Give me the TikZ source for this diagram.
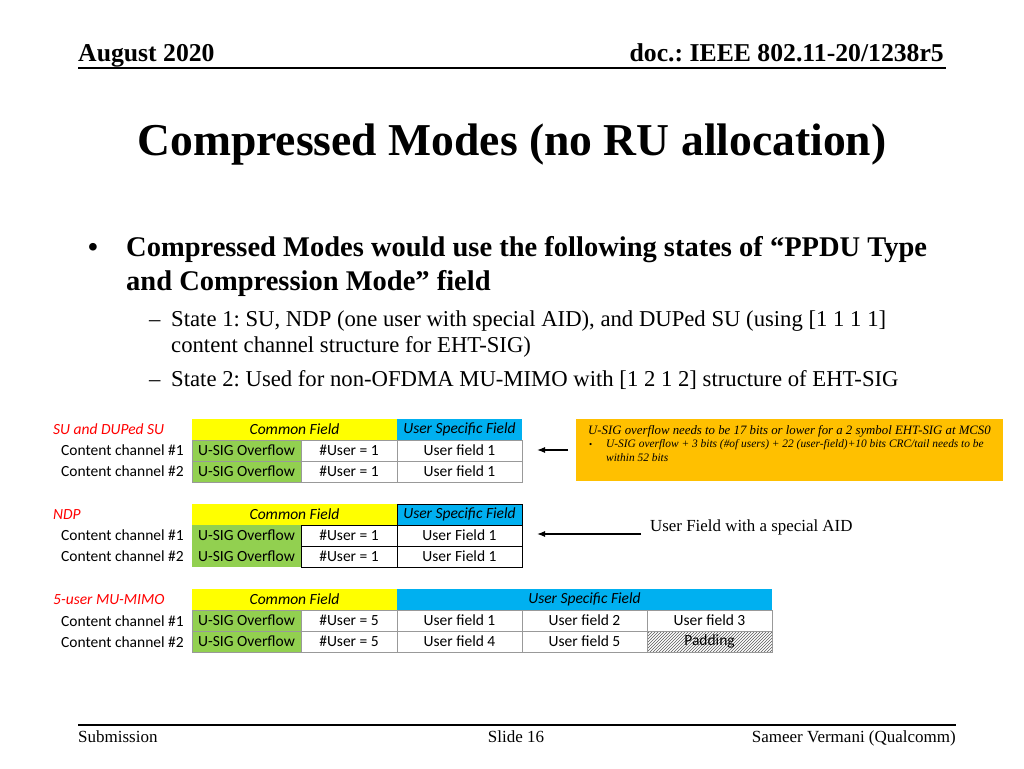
\documentclass[tikz,border=0pt]{standalone}
\usepackage{fontspec}
\setmainfont{Liberation Serif}
\newfontfamily\calib{Carlito}
\usetikzlibrary{patterns,arrows.meta}
\definecolor{cyel}{HTML}{FFFF00}
\definecolor{cblue}{HTML}{00B0F0}
\definecolor{cgreen}{HTML}{92D050}
\definecolor{corange}{HTML}{FFC000}
\definecolor{cred}{HTML}{FF0000}
\frenchspacing
\newcommand\fs[1]{\fontsize{#1}{#1}\selectfont}
\newcommand\mycell[7][]{\node[cellbox,#1,minimum width=#5pt,minimum height=#6pt] (#2) at (#3,#4) {#7};}
\tikzset{
  cellbox/.style={rectangle,anchor=north west,inner sep=0pt,outer sep=0pt,font=\calib\fs{15.5}},
  gridg/.style={draw=gray!80,line width=0.6pt},
  gridk/.style={draw=black,line width=1pt},
  hdr/.style={font=\calib\itshape\fs{15.5}},
  rowlab/.style={anchor=east,inner sep=0pt,font=\calib\fs{15.5}},
  grplab/.style={anchor=west,inner sep=0pt,font=\calib\itshape\fs{15.5},text=cred},
  pointer/.style={-{Latex[length=8pt,width=6pt]},line width=1.2pt},
}
\begin{document}
\begin{tikzpicture}[x=1pt,y=-1pt]
\useasboundingbox (0,0) rectangle (1024,768);
% header
\node[anchor=base west,inner sep=0pt,font=\bfseries\fs{25.7}] (date) at (78,62) {August 2020};
\node[anchor=base east,inner sep=0pt,font=\bfseries\fs{25.7}] (doc) at (944,62) {doc.: IEEE 802.11-20/1238r5};
\coordinate (hl) at (78,68); \coordinate (hr) at (946,68);
\draw[line width=1.5pt] (hl) -- (hr);
% title
\node[anchor=base,inner sep=0pt,font=\bfseries\fs{45.6}] (title) at (512,155) {Compressed Modes (no RU allocation)};
% bullets
\node[anchor=base west,inner sep=0pt,font=\bfseries\fs{28}] (b0) at (88,256) {\textbullet};
\node[anchor=base west,inner sep=0pt,font=\bfseries\fs{28.5}] (b1) at (126,256) {Compressed Modes would use the following states of “PPDU Type};
\node[anchor=base west,inner sep=0pt,font=\bfseries\fs{28.5}] (b2) at (126,290) {and Compression Mode” field};
\node[anchor=base west,inner sep=0pt,font=\fs{22.7}] (d1) at (149,326) {–};
\node[anchor=base west,inner sep=0pt,font=\fs{22.7}] (s1) at (171,326) {State 1: SU, NDP (one user with special AID), and DUPed SU (using [1 1 1 1]};
\node[anchor=base west,inner sep=0pt,font=\fs{22.7}] (s1b) at (171,352) {content channel structure for EHT-SIG)};
\node[anchor=base west,inner sep=0pt,font=\fs{22.7}] (d2) at (149,386) {–};
\node[anchor=base west,inner sep=0pt,font=\fs{22.7}] (s2) at (171,386) {State 2: Used for non-OFDMA MU-MIMO with [1 2 1 2] structure of EHT-SIG};
% ---------- table 1
\node[grplab] (g1) at (53,429.5) {SU and DUPed SU};
\mycell[fill=cyel,hdr]{t1cf}{192}{419}{205}{21}{Common Field}
\mycell[fill=cblue,hdr]{t1us}{397}{419}{125}{21}{User Specific Field}
\node[rowlab] (t1l1) at (184,450.5) {Content channel \#1};
\node[rowlab] (t1l2) at (184,471.5) {Content channel \#2};
\mycell[fill=cgreen,gridg]{t1a1}{192}{440}{109}{21}{U-SIG Overflow}
\mycell[gridg]{t1b1}{301}{440}{96}{21}{\#User = 1}
\mycell[gridg]{t1c1}{397}{440}{125}{21}{User field 1}
\mycell[fill=cgreen,gridg]{t1a2}{192}{461}{109}{21}{U-SIG Overflow}
\mycell[gridg]{t1b2}{301}{461}{96}{21}{\#User = 1}
\mycell[gridg]{t1c2}{397}{461}{125}{21}{User field 1}
\coordinate (a1s) at (568,450); \coordinate (a1e) at (537,450);
\draw[pointer] (a1s) -- (a1e);
% orange note
\node[fill=corange,anchor=north west,minimum width=427pt,minimum height=62pt,inner sep=0pt] (note) at (576,419) {};
\node[anchor=base west,inner sep=0pt,font=\itshape\fs{12.8}] (n1) at (588,434) {U-SIG overflow needs to be 17 bits or lower for a 2 symbol EHT-SIG at MCS0};
\node[anchor=base west,inner sep=0pt,font=\fs{9}] (nb) at (589,447.5) {\textbullet};
\node[anchor=base west,inner sep=0pt,font=\itshape\fs{11.4}] (n2) at (606,447.5) {U-SIG overflow + 3 bits (\#of users) + 22 (user-field)+10 bits CRC/tail needs to be};
\node[anchor=base west,inner sep=0pt,font=\itshape\fs{11.4}] (n3) at (606,461.5) {within 52 bits};
% ---------- table 2
\node[grplab] (g2) at (53,514.5) {NDP};
\mycell[fill=cyel,hdr]{t2cf}{192}{504}{205}{21}{Common Field}
\mycell[fill=cblue,hdr,gridk]{t2us}{397}{504}{125}{21}{User Specific Field}
\node[rowlab] (t2l1) at (184,535.5) {Content channel \#1};
\node[rowlab] (t2l2) at (184,556.5) {Content channel \#2};
\mycell[fill=cgreen]{t2a1}{192}{525}{109}{21}{U-SIG Overflow}
\mycell[gridk]{t2b1}{301}{525}{96}{21}{\#User = 1}
\mycell[gridk]{t2c1}{397}{525}{125}{21}{User Field 1}
\mycell[fill=cgreen]{t2a2}{192}{546}{109}{21}{U-SIG Overflow}
\mycell[gridk]{t2b2}{301}{546}{96}{21}{\#User = 1}
\mycell[gridk]{t2c2}{397}{546}{125}{21}{User Field 1}
\node[anchor=base west,inner sep=0pt,font=\fs{16.9}] (aid) at (650,531) {User Field with a special AID};
\coordinate (a2s) at (641,534); \coordinate (a2e) at (537,534);
\draw[pointer] (a2s) -- (a2e);
% ---------- table 3
\node[grplab] (g3) at (53,600) {5-user MU-MIMO};
\mycell[fill=cyel,hdr]{t3cf}{192}{589}{205}{21}{Common Field}
\mycell[fill=cblue,hdr]{t3us}{397}{589}{375}{21}{User Specific Field}
\node[rowlab] (t3l1) at (184,621) {Content channel \#1};
\node[rowlab] (t3l2) at (184,642) {Content channel \#2};
\mycell[fill=cgreen,gridg]{t3a1}{192}{610}{109}{21}{U-SIG Overflow}
\mycell[gridg]{t3b1}{301}{610}{96}{21}{\#User = 5}
\mycell[gridg]{t3c1}{397}{610}{125}{21}{User field 1}
\mycell[gridg]{t3d1}{522}{610}{125}{21}{User field 2}
\mycell[gridg]{t3e1}{647}{610}{125}{21}{User field 3}
\mycell[fill=cgreen,gridg]{t3a2}{192}{631}{109}{21}{U-SIG Overflow}
\mycell[gridg]{t3b2}{301}{631}{96}{21}{\#User = 5}
\mycell[gridg]{t3c2}{397}{631}{125}{21}{User field 4}
\mycell[gridg]{t3d2}{522}{631}{125}{21}{User field 5}
\mycell[gridg,pattern=north east lines,pattern color=gray!70!black]{t3e2}{647}{631}{125}{21}{Padding}
% footer
\coordinate (fl) at (78,725); \coordinate (fr) at (956,725);
\draw[line width=1.2pt] (fl) -- (fr);
\node[anchor=base west,inner sep=0pt,font=\fs{17}] (sub) at (78,742) {Submission};
\node[anchor=base,inner sep=0pt,font=\fs{17}] (slide) at (516,742) {Slide 16};
\node[anchor=base east,inner sep=0pt,font=\fs{17}] (auth) at (956,742) {Sameer Vermani (Qualcomm)};
\end{tikzpicture}
\end{document}
